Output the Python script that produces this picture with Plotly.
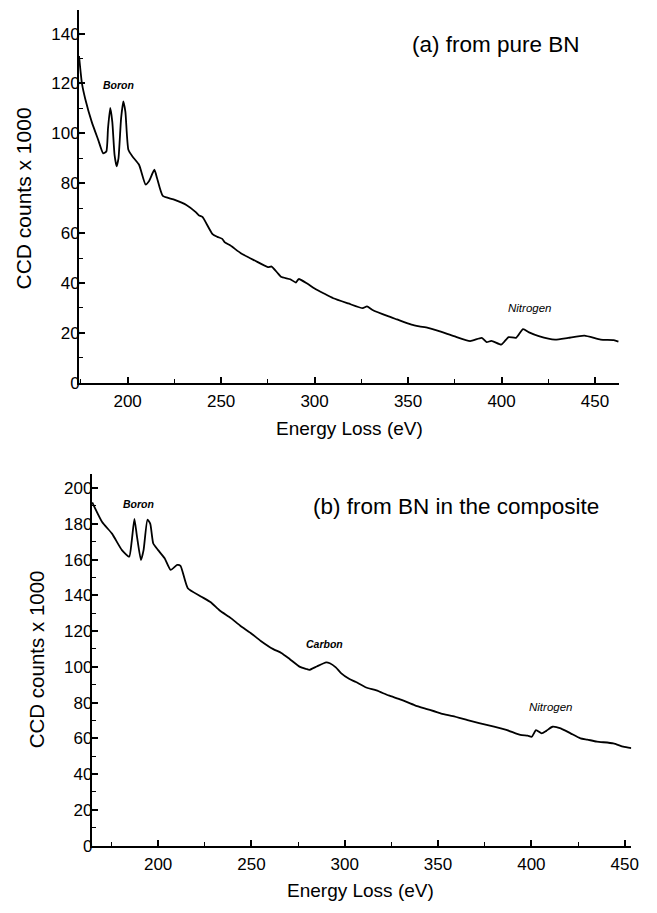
import plotly.graph_objects as go

# ---- Data: panel (a) from pure BN ----
a_energy = [174, 175.6, 177.3, 180.8, 184.3, 186.9, 188.6, 189.5, 190.7, 191.8, 193, 194.1, 195.1,
            196.5, 197.7, 198.8, 200.4, 202.6, 206.1, 209.6, 211.4, 214.3, 215.7, 218.8, 224.5,
            231.4, 236.6, 238, 240, 245.4, 248, 250.6, 252, 255, 261, 268, 275, 277, 280, 282, 287,
            290, 291.5, 296, 300, 305, 310, 318, 325.7, 328, 331, 339.6, 344, 351.8, 356, 360.6,
            367, 374.5, 383.2, 389.4, 392, 394.6, 399.8, 401.5, 403.8, 407.7, 411.5, 414.7, 419.9,
            428.6, 435.6, 444.3, 453, 460, 462.5]
a_counts = [131, 119.8, 113.9, 104.6, 97.3, 92, 92.7, 102, 110.2, 104.6, 91.4, 86.8, 90,
            106, 112.8, 108.6, 93.4, 90.7, 87.4, 79.5, 80.8, 85.4, 82.1, 74.9, 73.5,
            71.3, 68.3, 67.2, 66.5, 59.6, 58.5, 57.7, 56.3, 55, 51.7, 49, 46.4, 46.6, 44.2, 42.5,
            41.5, 40.2, 41.6, 39.8, 37.8, 35.8, 33.9, 31.8, 29.9, 30.6, 29.2, 26.6, 25.4, 23.3,
            22.6, 22, 20.6, 18.7, 16.7, 18, 16.3, 16.8, 15.3, 16.5, 18.3, 18, 21.5, 20.2, 18.7,
            17.3, 18, 18.9, 17.3, 17.1, 16.5]

# ---- Data: panel (b) from BN in the composite ----
b_energy = [164.7, 170, 175.3, 180.6, 184.5, 185.9, 187.3, 188.7, 190.8, 192.2, 194.3, 195.8, 197.4,
            200, 203.5, 206.7, 210.2, 212, 215.9, 222.9, 228.2, 233, 238.8, 244, 249.4, 255, 261.7,
            266, 270.6, 276, 279.4, 281, 285, 290, 292, 295.2, 298, 302.3, 306, 311.1, 317, 323.5,
            330, 337.6, 344, 351.7, 358, 365.8, 372, 380, 387, 394.1, 398, 400.2, 402.5, 405.5, 408,
            411.3, 415.7, 421, 426.3, 430, 435.1, 443.9, 449.2, 453.6]
b_counts = [192, 181, 174.5, 165.3, 161.6, 170.8, 182.8, 172.7, 159.7, 165.3, 182.3, 180, 169,
            165.3, 160.7, 154.2, 157, 156.5, 144, 139.4, 136.1, 131.5, 127.4, 123, 119.1, 114.5,
            109.9, 107.8, 104.3, 100, 98.8, 98.3, 100.2, 102.5, 102, 99.7, 96.5, 93.3, 91.5, 88.6,
            86.8, 84, 81.7, 78.5, 76.4, 73.9, 72.4, 70.2, 68.5, 66.5, 64.6, 61.9, 61.5, 60.9, 64.6,
            62.8, 64.2, 66.5, 65.6, 62.8, 60, 59.3, 58.2, 57.2, 55.4, 54.5]

y_title = "CCD counts x 1000"
x_title = "Energy Loss (eV)"
title_a = "(a) from pure BN"
title_b = "(b) from BN in the composite"

FONT = "Liberation Sans, Arial, sans-serif"
W, H = 657, 913


def px(x):
    return x / W


def py(y):
    return 1 - y / H


fig = go.Figure()
fig.add_trace(go.Scatter(x=a_energy, y=a_counts, mode="lines",
                         line=dict(color="black", width=1.8, shape="spline", smoothing=0.5),
                         xaxis="x", yaxis="y", showlegend=False))
fig.add_trace(go.Scatter(x=b_energy, y=b_counts, mode="lines",
                         line=dict(color="black", width=1.8, shape="spline", smoothing=0.5),
                         xaxis="x2", yaxis="y2", showlegend=False))

base = dict(showgrid=False, zeroline=False, showline=True, linecolor="black",
            linewidth=2, ticks="inside", tickcolor="black", tickwidth=1.5, ticklen=6,
            tickfont=dict(family=FONT, size=17, color="black"))
minor_x = dict(ticks="inside", ticklen=4, tickcolor="black", tickwidth=1.2,
               tickvals=[175, 225, 275, 325, 375, 425])

fig.update_layout(
    width=W, height=H,
    margin=dict(l=0, r=0, t=0, b=0),
    paper_bgcolor="white", plot_bgcolor="white",
    xaxis=dict(domain=[px(80), px(627)], range=[174, 463], anchor="y",
               tickvals=[200, 250, 300, 350, 400, 450], minor=minor_x,
               ticklabelstandoff=2, **base),
    yaxis=dict(domain=[py(387), py(10)], range=[0, 149.5], anchor="x",
               tickvals=[0, 20, 40, 60, 80, 100, 120, 140],
               minor=dict(ticks="inside", ticklen=4, tickcolor="black", tickwidth=1.2,
                          tickvals=[10, 30, 50, 70, 90, 110, 130]),
               ticklabelstandoff=-6, **base),
    xaxis2=dict(domain=[px(93), px(639)], range=[164.5, 453.5], anchor="y2",
                tickvals=[200, 250, 300, 350, 400, 450], minor=minor_x,
                ticklabelstandoff=2, **base),
    yaxis2=dict(domain=[py(855), py(479)], range=[0, 208], anchor="x2",
                tickvals=[0, 20, 40, 60, 80, 100, 120, 140, 160, 180, 200],
                minor=dict(ticks="inside", ticklen=4, tickcolor="black", tickwidth=1.2,
                           tickvals=[10, 30, 50, 70, 90, 110, 130, 150, 170, 190]),
                ticklabelstandoff=-6, **base),
)

C = dict(xanchor="center", yanchor="middle", showarrow=False)
ann = []
# Axis titles
ann.append(dict(text=y_title, x=px(24), y=py(201), xref="paper", yref="paper",
                textangle=-90, font=dict(family=FONT, size=21, color="black"), **C))
ann.append(dict(text=y_title, x=px(37), y=py(667), xref="paper", yref="paper",
                textangle=-90, font=dict(family=FONT, size=20.5, color="black"), **C))
ann.append(dict(text=x_title, x=px(354), y=py(433), xref="paper", yref="paper",
                font=dict(family=FONT, size=19, color="black"), **C))
ann.append(dict(text=x_title, x=px(365), y=py(900), xref="paper", yref="paper",
                font=dict(family=FONT, size=19, color="black"), **C))
# Panel titles
ann.append(dict(text=title_a, x=px(502), y=py(45), xref="paper", yref="paper",
                font=dict(family=FONT, size=22.5, color="black"), **C))
ann.append(dict(text=title_b, x=px(462), y=py(512), xref="paper", yref="paper",
                font=dict(family=FONT, size=22.5, color="black"), **C))
# Edge labels
lab_font = dict(family=FONT, size=10.5, color="black")
ann.append(dict(text="<b><i>Boron</i></b>", x=195, y=119.5, xref="x", yref="y",
                font=lab_font, **C))
ann.append(dict(text="<i>Nitrogen</i>", x=415, y=30, xref="x", yref="y",
                font=dict(family=FONT, size=11.5, color="black"), **C))
ann.append(dict(text="<b><i>Boron</i></b>", x=189.5, y=191, xref="x2", yref="y2",
                font=lab_font, **C))
ann.append(dict(text="<b><i>Carbon</i></b>", x=289, y=112.5, xref="x2", yref="y2",
                font=lab_font, **C))
ann.append(dict(text="<i>Nitrogen</i>", x=410.5, y=77.6, xref="x2", yref="y2",
                font=dict(family=FONT, size=11.5, color="black"), **C))
fig.update_layout(annotations=ann)

# Remove the browser's default body margin so the figure sits at the page origin
fig.write_html("out.html", config={"displayModeBar": False},
               post_script="document.body.style.margin='0';document.body.style.overflow='hidden';")
